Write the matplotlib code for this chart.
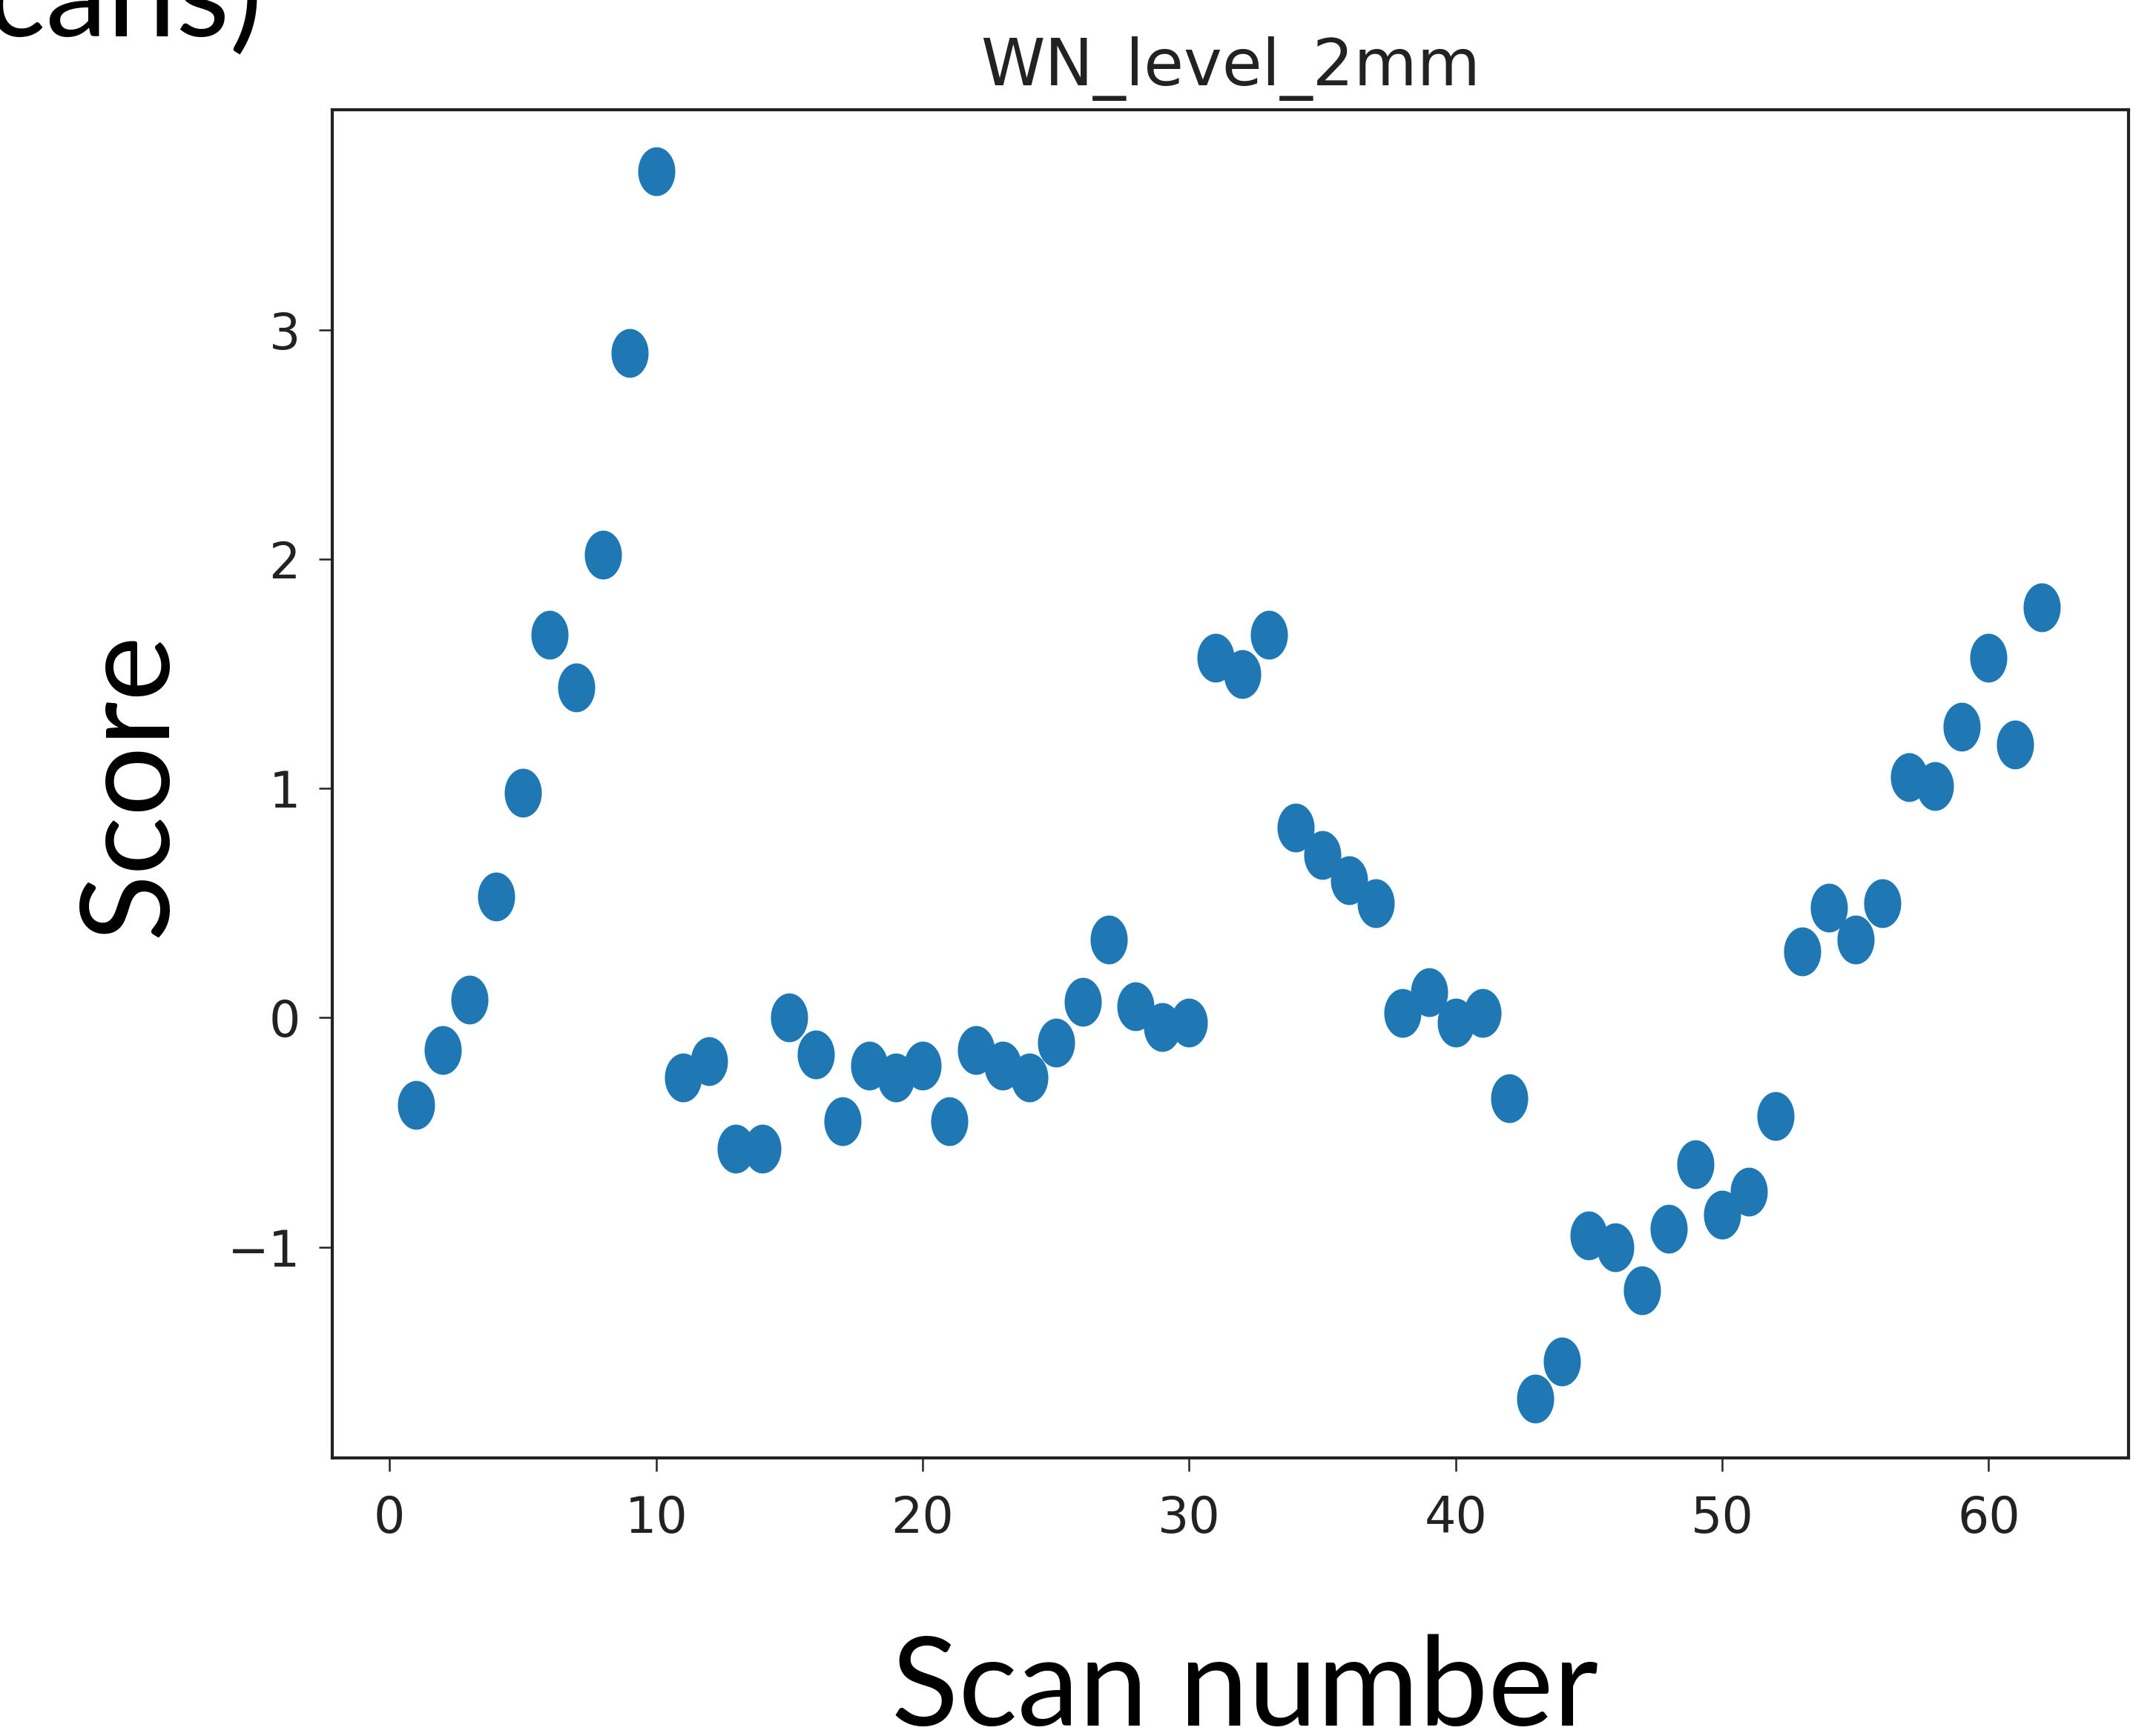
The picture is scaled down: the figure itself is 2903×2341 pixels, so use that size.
import numpy as np
import matplotlib
matplotlib.use("Agg")
import matplotlib.pyplot as plt
from matplotlib.path import Path

# scan number and score
scan = list(range(1, 63))
score = [-0.38, -0.14, 0.08, 0.53, 0.98, 1.67, 1.44, 2.02, 2.90, 3.69,
         -0.26, -0.19, -0.57, -0.57, 0.00, -0.16, -0.45, -0.21, -0.26, -0.21,
         -0.45, -0.14, -0.21, -0.26, -0.11, 0.07, 0.34, 0.05, -0.04, -0.02,
         1.57, 1.50, 1.67, 0.83, 0.71, 0.60, 0.50, 0.02, 0.11, -0.02,
         0.02, -0.35, -1.66, -1.50, -0.95, -1.00, -1.19, -0.92, -0.64, -0.86,
         -0.76, -0.43, 0.29, 0.48, 0.34, 0.50, 1.05, 1.01, 1.27, 1.57,
         1.19, 1.79]

title = "WN_level_2mm"
xlabel = "Scan number"
ylabel = "Score"
corner_text = "cans)"

W, H = 2903, 2341
fig = plt.figure(figsize=(W / 100, H / 100), dpi=100)
ax = fig.add_axes([448 / W, 1 - 1966 / H, (2870 - 448) / W, (1966 - 148) / H])

# slightly tall ellipse marker (the screenshot is stretched vertically)
t = np.linspace(0, 2 * np.pi, 60)
ell = Path(np.column_stack([0.76 * np.cos(t), np.sin(t)]), closed=True)
ax.scatter(scan, score, s=2250, marker=ell, color="#1f77b4", linewidths=0)

ax.set_xlim(-2.15, 65.25)
ax.set_ylim(-1.92, 3.96)
ax.set_xticks([0, 10, 20, 30, 40, 50, 60])
ax.set_yticks([-1, 0, 1, 2, 3])
ax.set_yticklabels(["\u22121", "0", "1", "2", "3"])

for sp in ax.spines.values():
    sp.set_linewidth(3)
    sp.set_color("#222222")
ax.tick_params(axis="both", labelsize=48, length=13, width=1.8, color="#222222",
               labelcolor="#222222")
ax.tick_params(axis="x", pad=22)
ax.tick_params(axis="y", pad=18)

ax.set_title(title, fontsize=63, pad=24, color="#222222")

lab_font = dict(family=["Lato", "DejaVu Sans"], fontsize=120, color="black")
fig.text(1679 / W, 1 - 2327 / H, xlabel, ha="center", va="baseline", **lab_font)
fig.text(176 / W, 1 - 1058 / H, ylabel, ha="center", va="center", rotation=90, **lab_font)
fig.text(354 / W, 1 - 50 / H, corner_text, ha="right", va="baseline", **lab_font)

fig.savefig("out.png", dpi=100)
